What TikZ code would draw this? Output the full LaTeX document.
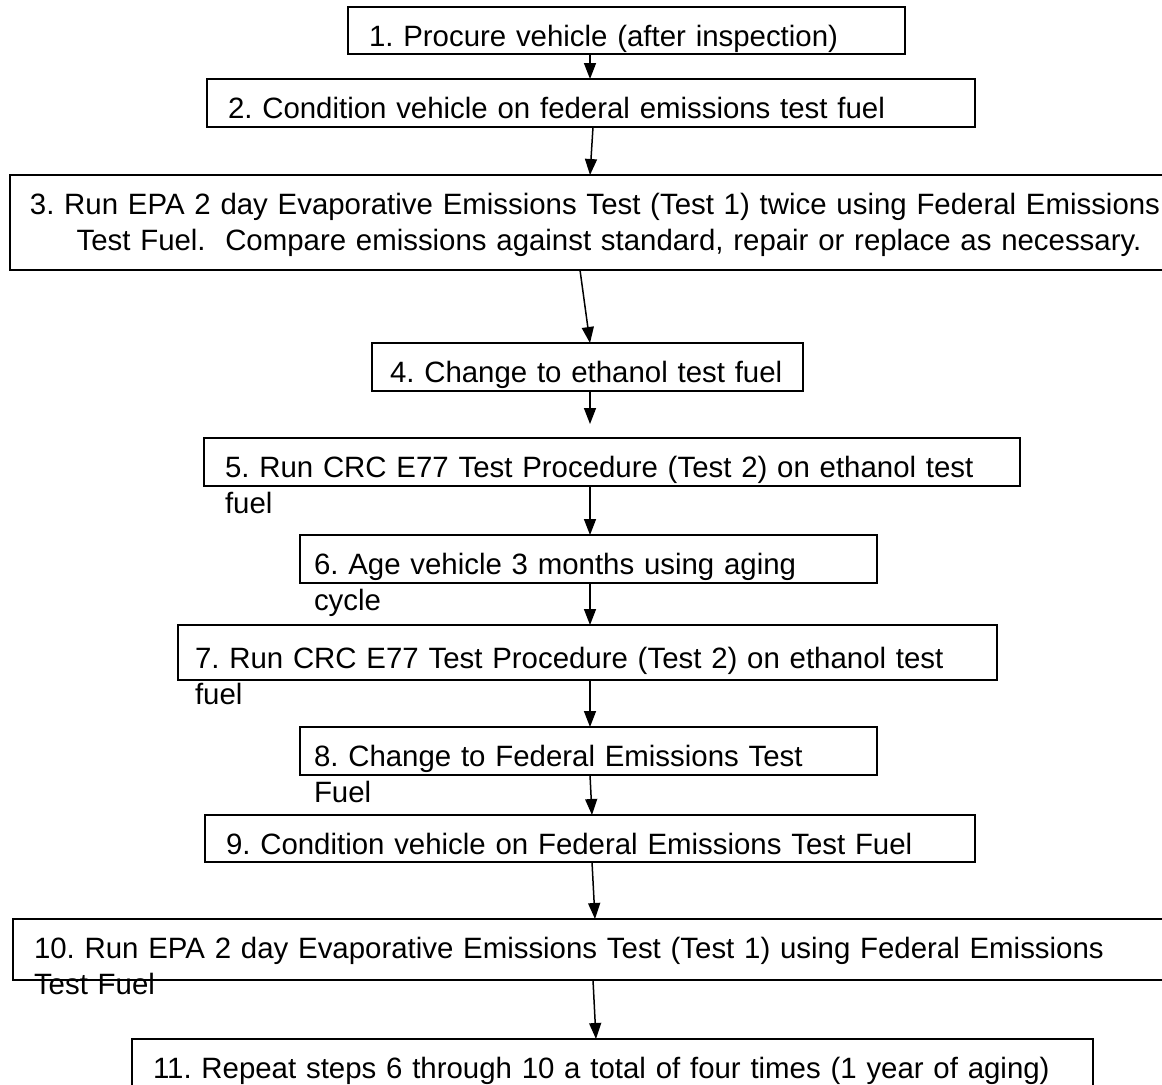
\documentclass[tikz,border=0pt]{standalone}
\usepackage{fontspec}
\setmainfont{Liberation Sans}
\usetikzlibrary{arrows.meta, positioning, calc}
\frenchspacing
\tikzstyle{stepbox} = [%
  rectangle,
  draw=black,
  line width=0.9pt,
  anchor=north west,
  outer sep=0pt,
  align=left,
  inner xsep=10.5pt,
  inner ysep=0pt,
  text height=19.5pt,
  font=\fontsize{14.7pt}{18pt}\selectfont\frenchspacing
]

\begin{document}
\begin{tikzpicture}[%
  x=0.5pt, y=-0.5pt,
  flow/.style={%
    -{Triangle[length=8pt,width=6pt]},
    line width=0.75pt
  },
  every node/.style={text=black}
]
  \useasboundingbox (0,0) rectangle (1162,1084);

  % Nodes
  \node[stepbox,text width=257.5pt,text depth=4pt] (s1) at (348,7) {1. Procure vehicle (after inspection)};
  \node[stepbox,text width=363pt,text depth=4.5pt] (s2) at (207,79) {2. Condition vehicle on federal emissions test fuel};
  \node[stepbox,inner xsep=4pt,text width=577pt,text depth=28pt,align=center] (s3) at (10,175) {3. Run EPA 2 day Evaporative Emissions Test (Test 1) twice using Federal Emissions\\\hspace*{14pt}Test Fuel.~~Compare emissions against standard, repair or replace as necessary.};
  \node[stepbox,inner xsep=9pt,text width=197.5pt,text depth=4.5pt] (s4) at (372,343) {4. Change to ethanol test fuel};
  \node[stepbox,text width=387pt,text depth=4.5pt] (s5) at (204,438) {5. Run CRC E77 Test Procedure (Test 2) on ethanol test\\fuel};
  \node[stepbox,inner xsep=7pt,text width=274.5pt,text depth=4.5pt] (s6) at (300,535) {6. Age vehicle 3 months using aging\\cycle};
  \node[stepbox,inner xsep=8.5pt,text width=392.5pt,text height=21.5pt,text depth=6pt] (s7) at (178,625) {7. Run CRC E77 Test Procedure (Test 2) on ethanol test\\fuel};
  \node[stepbox,inner xsep=7pt,text width=274.5pt,text depth=4.5pt] (s8) at (300,727) {8. Change to Federal Emissions Test\\Fuel};
  \node[stepbox,text width=364pt,text depth=4pt] (s9) at (205,815) {9. Condition vehicle on Federal Emissions Test Fuel};
  \node[stepbox,text width=562.5pt,text depth=11pt] (s10) at (13,919) {10. Run EPA 2 day Evaporative Emissions Test (Test 1) using Federal Emissions\\Test Fuel};
  \node[stepbox,text width=459.5pt,text depth=15pt] (s11) at (132,1039) {11. Repeat steps 6 through 10 a total of four times (1 year of aging)};

  % Edges
  \coordinate (ax) at (590,0);
  \draw[flow] (s1.south -| ax) -- (s2.north -| ax);
  \draw[flow] ($(s2.south -| ax)+(3,0)$) -- (s3.north -| ax);
  \draw[flow] ($(s3.south -| ax)+(-10,0)$) -- (s4.north -| ax);
  \draw[flow,shorten >=7pt] (s4.south -| ax) -- (s5.north -| ax);
  \draw[flow] (s5.south -| ax) -- (s6.north -| ax);
  \draw[flow] (s6.south -| ax) -- (s7.north -| ax);
  \draw[flow] (s7.south -| ax) -- (s8.north -| ax);
  \draw[flow] (s8.south -| ax) -- ($(s9.north -| ax)+(2,0)$);
  \draw[flow] ($(s9.south -| ax)+(2,0)$) -- ($(s10.north -| ax)+(5,0)$);
  \draw[flow] ($(s10.south -| ax)+(3,0)$) -- ($(s11.north -| ax)+(6,0)$);

\end{tikzpicture}
\end{document}
